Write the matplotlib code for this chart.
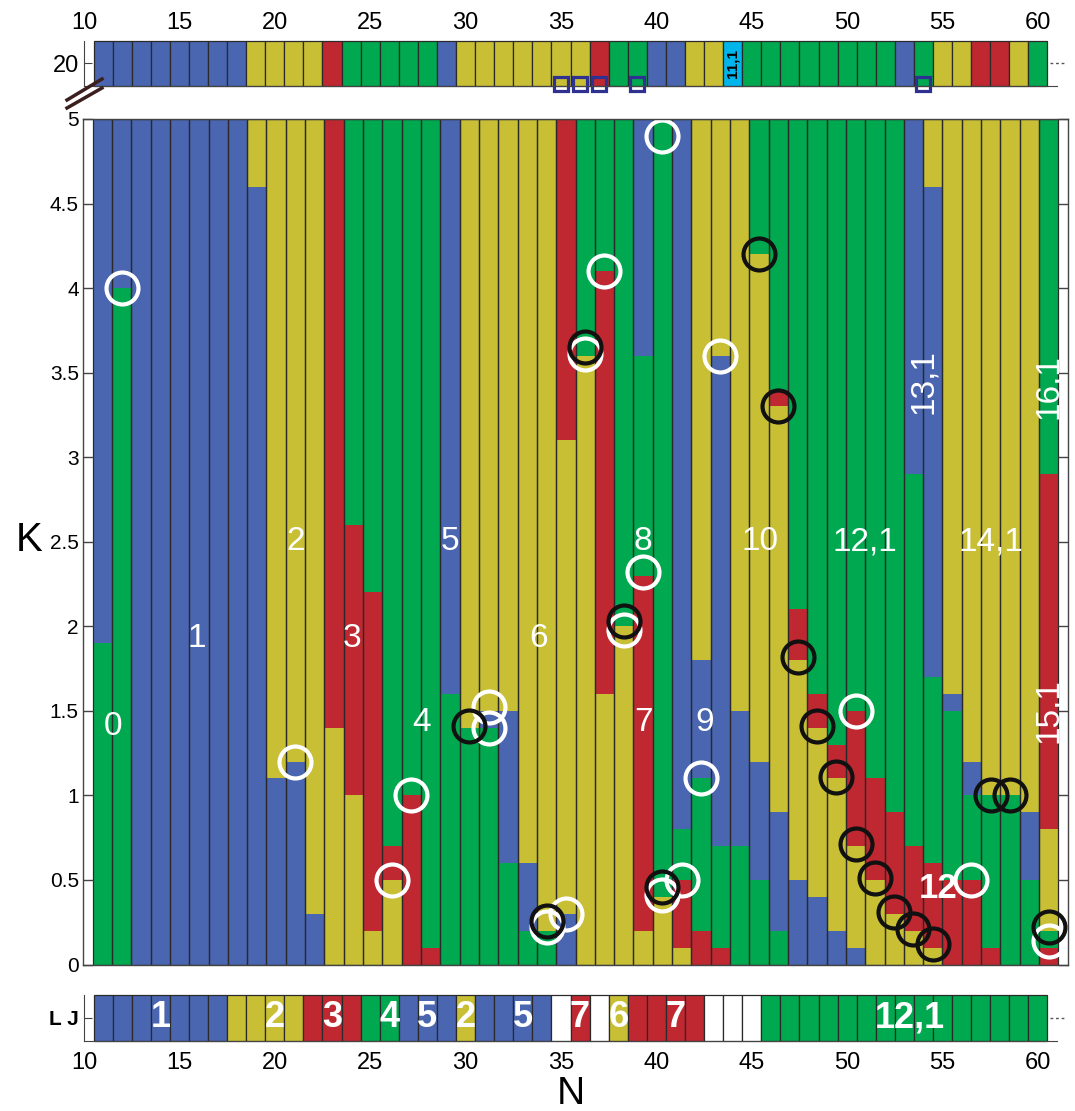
import numpy as np
import matplotlib
matplotlib.use('Agg')
import matplotlib.pyplot as plt
from matplotlib.lines import Line2D

plt.rcParams['font.family'] = ['Liberation Sans', 'DejaVu Sans']

# colours of the structures
COL = {'b': '#4A66B0', 'y': '#C8BF35', 'r': '#BF2731', 'g': '#00A84F',
       'c': '#00B5EC', 'w': '#FFFFFF'}

N = list(range(11, 61))

# main panel: phases from K=0 upwards and the upper K of each phase
main_phase = ['gb', 'gb', 'b', 'b', 'b', 'b', 'b', 'b', 'by', 'by',
              'by', 'by', 'yr', 'yrg', 'yrg', 'yrg', 'rg', 'rg', 'gb', 'gy',
              'gby', 'gby', 'gby', 'gy', 'byr', 'yg', 'yrg', 'yg', 'yrgb', 'yg',
              'yrgb', 'rgby', 'rgby', 'gby', 'gbyg', 'gbyrg', 'byrg', 'byrg', 'byrg', 'byrg',
              'yrg', 'yrg', 'yrgb', 'yrgby', 'rgby', 'rgby', 'rgy', 'gy', 'gby', 'rgyrg']
main_top = [[1.9, 5], [4.0, 5], [5], [5], [5], [5], [5], [5], [4.6, 5], [1.1, 5],
            [1.2, 5], [0.3, 5], [1.4, 5], [1.0, 2.6, 5], [0.2, 2.2, 5], [0.5, 0.7, 5], [1.0, 5], [0.1, 5], [1.6, 5], [1.4, 5],
            [1.4, 1.5, 5], [0.6, 1.5, 5], [0.2, 0.6, 5], [0.2, 5], [0.3, 3.1, 5], [3.6, 5], [1.6, 4.1, 5], [2.0, 5], [0.2, 2.3, 3.6, 5], [0.4, 5],
            [0.1, 0.5, 0.8, 5], [0.2, 1.1, 1.8, 5], [0.1, 0.7, 3.6, 5], [0.7, 1.5, 5], [0.5, 1.2, 4.2, 5], [0.2, 0.9, 3.3, 3.4, 5], [0.5, 1.8, 2.1, 5], [0.4, 1.4, 1.6, 5], [0.2, 1.1, 1.3, 5], [0.1, 0.7, 1.5, 5],
            [0.5, 1.1, 5], [0.3, 0.9, 5], [0.2, 0.7, 2.9, 5], [0.1, 0.6, 1.7, 4.6, 5], [0.5, 1.5, 1.6, 5], [0.5, 1.0, 1.2, 5], [0.1, 1.0, 5], [1.0, 5], [0.5, 0.9, 5], [0.1, 0.2, 0.8, 2.9, 5]]

# K = 20 row and the L J row
top_phase = 'bbbbbbbb' + 'yyyy' + 'r' + 'ggggg' + 'b' + 'yyyyyyy' + 'r' + 'gg' + 'bb' + 'yy' + 'c' + 'gggggggg' + 'b' + 'g' + 'yy' + 'rr' + 'y' + 'g'
lj_phase = 'bbbbbbb' + 'yyyy' + 'rrr' + 'gg' + 'bbb' + 'y' + 'bbbb' + 'w' + 'r' + 'w' + 'y' + 'rrrr' + 'www' + 'ggggggggggggggg'
square_n = [35, 36, 37, 39, 54]

# circled points
white_n = [12, 21, 26, 27, 31, 31, 34, 35, 36, 37, 38, 39, 40, 40, 41, 42, 43, 50, 56, 60]
white_k = [4.0, 1.2, 0.5, 1.0, 1.52, 1.4, 0.22, 0.3, 3.61, 4.1, 1.98, 2.32, 4.9, 0.41, 0.5, 1.1, 3.6, 1.5, 0.5, 0.14]
black_n = [30, 34, 36, 38, 40, 45, 46, 47, 48, 49, 50, 51, 52, 53, 54, 57, 58, 60]
black_k = [1.41, 0.26, 3.65, 2.03, 0.46, 4.2, 3.3, 1.82, 1.41, 1.11, 0.71, 0.51, 0.31, 0.21, 0.12, 1.0, 1.0, 0.22]

# region labels: text, N, K, rotation
main_labels = [('0', 11.55, 1.41, 0), ('1', 15.9, 1.93, 0), ('2', 21.0, 2.5, 0), ('3', 23.95, 1.93, 0),
               ('4', 27.55, 1.43, 0), ('5', 29.0, 2.5, 0), ('6', 33.6, 1.93, 0), ('7', 39.0, 1.43, 0),
               ('8', 39.0, 2.5, 0), ('9', 42.2, 1.43, 0), ('10', 45.05, 2.5, 0), ('12,1', 50.5, 2.5, 0),
               ('14,1', 57.0, 2.5, 0), ('13,1', 53.5, 3.45, 90), ('15,1', 60.0, 1.5, 90), ('16,1', 60.0, 3.42, 90)]
lj_labels = [('1', 14), ('2', 20), ('3', 23), ('4', 26), ('5', 28), ('2', 30), ('5', 33),
             ('7', 36), ('6', 38), ('7', 41), ('12,1', 53.3)]

W, H = 1075, 1111
fig = plt.figure(figsize=(W / 100, H / 100), dpi=100)
ax = fig.add_axes([83 / W, 1 - 964.5 / H, 985 / W, 845.5 / H])
ax_top = fig.add_axes([84 / W, 1 - 86 / H, 973 / W, 45.3 / H])
ax_bot = fig.add_axes([84 / W, 1 - 1040.7 / H, 973 / W, 45.7 / H])

edge = '#2a2a2a'

# main panel, segments without edges then the column outlines
xs, hs, bs, cs = [], [], [], []
for n, phases, tops in zip(N, main_phase, main_top):
    lo = 0
    for p, hi in zip(phases, tops):
        xs.append(n)
        hs.append(hi - lo)
        bs.append(lo)
        cs.append(COL[p])
        lo = hi
ax.bar(xs, hs, bottom=bs, width=1, color=cs, linewidth=0)
ax.bar(N, 5, width=1, facecolor='none', edgecolor=edge, linewidth=0.9)

ax.plot(white_n, white_k, 'o', ms=23, mfc='none', mec='white', mew=3)
ax.plot(black_n, black_k, 'o', ms=23, mfc='none', mec='#111111', mew=3)

for s, x, k, rot in main_labels:
    ax.text(x, k, s, color='white', fontsize=24, ha='center', va='center', rotation=rot)
ax.text(54.3, 0.45, '12', color='white', fontsize=25, fontweight='bold', ha='center', va='center')

ax.set_xlim(10, 61)
ax.set_ylim(0, 5)
ax.set_xticks([])
yt = np.arange(0, 5.01, 0.5)
ax.set_yticks(yt)
ax.set_yticklabels(['%g' % v for v in yt])
ax.tick_params(axis='y', direction='in', length=7, width=1, left=True, right=True,
               labelsize=15, pad=3, color='#444444')
ax.set_ylabel('K', fontsize=29, rotation=0, va='center', ha='center')
ax.yaxis.set_label_coords(-0.055, 0.502)
for sp in ax.spines.values():
    sp.set_color('#444444')
    sp.set_linewidth(1)

# K = 20 row
ax_top.bar(N, 1, bottom=19.5, width=1, color=[COL[c] for c in top_phase],
           edgecolor=edge, linewidth=0.9, clip_on=False)
ax_top.text(44, 20, '11,1', rotation=90, fontsize=11, fontweight='bold', ha='center', va='center')
ax_top.plot(square_n, [19.55] * len(square_n), 's', ms=10, mfc='none', mec='#2E3192', mew=2.3, clip_on=False)
ax_top.set_xlim(10, 61)
ax_top.set_ylim(19.5, 20.5)
ax_top.xaxis.tick_top()
ax_top.set_xticks(range(10, 61, 5))
ax_top.tick_params(axis='x', length=0, labelsize=17, pad=5)
ax_top.set_yticks([20])
ax_top.tick_params(axis='y', direction='in', length=6, labelsize=17, color='#444444')

# L J row
ax_bot.bar(N, 1, bottom=0.5, width=1, color=[COL[c] for c in lj_phase],
           edgecolor=edge, linewidth=0.9, clip_on=False)
for s, x in lj_labels:
    ax_bot.text(x, 1, s, color='white', fontsize=26, fontweight='bold', ha='center', va='center')
ax_bot.set_xlim(10, 61)
ax_bot.set_ylim(0.5, 1.5)
ax_bot.set_xticks(range(10, 61, 5))
ax_bot.tick_params(axis='x', length=0, labelsize=17, pad=8)
ax_bot.set_yticks([1])
ax_bot.set_yticklabels(['L J'], fontweight='bold')
ax_bot.tick_params(axis='y', direction='in', length=6, labelsize=15, color='#444444')
ax_bot.set_xlabel('N', fontsize=28, va='center')
ax_bot.xaxis.set_label_coords(0.5, -1.16)

for a in (ax_top, ax_bot):
    a.spines['top'].set_visible(False)
    a.spines['right'].set_visible(False)
    a.spines['left'].set_color('#444444')
    a.spines['bottom'].set_color('#444444')
    a.add_line(Line2D([0.993, 1.007], [0.5, 0.5], transform=a.transAxes, color='#555555',
                      lw=1, ls=(0, (2, 2)), clip_on=False))

# break marks between the K = 20 row and the main panel
for y0, y1 in ((100, 79), (108, 88)):
    fig.add_artist(Line2D([67 / W, 102 / W], [1 - y0 / H, 1 - y1 / H], color='#3B1F1F', lw=2.5))

fig.savefig('out.png', dpi=100)
